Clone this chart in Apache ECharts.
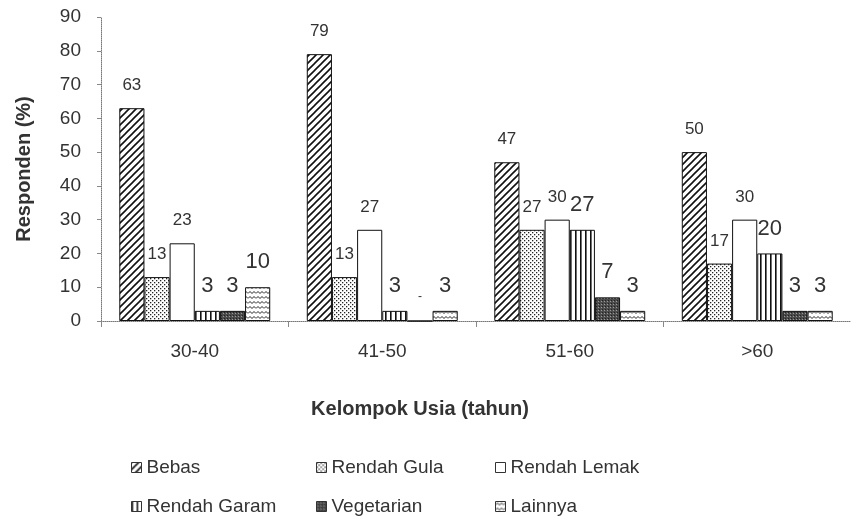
<!DOCTYPE html>
<html>
<head>
<meta charset="utf-8">
<script src="https://cdn.jsdelivr.net/npm/echarts@6/dist/echarts.min.js"></script>
<style>
  html, body { margin: 0; padding: 0; background: #fff; }
  #chart { width: 851px; height: 524px; }
</style>
</head>
<body>
<div id="chart"></div>
<script>
// Age groups and diet-type shares (% of respondents)
const categories = ['30-40', '41-50', '51-60', '>60'];
const seriesNames = ['Bebas', 'Rendah Gula', 'Rendah Lemak', 'Rendah Garam', 'Vegetarian', 'Lainnya'];
const bebas = [63, 79, 47, 50];
const rendahGula = [13, 13, 27, 17];
const rendahLemak = [23, 27, 30, 30];
const rendahGaram = [3, 3, 27, 20];
const vegetarian = [3, 0, 7, 3];
const lainnya = [10, 3, 3, 3];
const yTicks = [0, 10, 20, 30, 40, 50, 60, 70, 80, 90];

const FONT = '"Liberation Sans", Arial, sans-serif';

// Monochrome fill patterns drawn on small canvas tiles
function tile(w, h, draw) {
  const c = document.createElement('canvas');
  c.width = w; c.height = h;
  const g = c.getContext('2d');
  g.fillStyle = '#fff';
  g.fillRect(0, 0, w, h);
  draw(g, w, h);
  return { image: c, repeat: 'repeat' };
}
const patterns = [
  // diagonal hatching
  tile(7, 7, (g, w, h) => {
    g.strokeStyle = '#111'; g.lineWidth = 1.6;
    g.beginPath();
    g.moveTo(-1, h + 1); g.lineTo(w + 1, -1);
    g.moveTo(-1, 1); g.lineTo(1, -1);
    g.moveTo(w - 1, h + 1); g.lineTo(w + 1, h - 1);
    g.stroke();
  }),
  // light stipple
  tile(4, 4, (g) => {
    g.fillStyle = '#222';
    g.fillRect(0, 0, 1.3, 1.3);
    g.fillRect(2, 2, 1.3, 1.3);
  }),
  // plain white
  tile(2, 2, () => {}),
  // vertical lines
  tile(5, 5, (g, w, h) => {
    g.fillStyle = '#111';
    g.fillRect(0, 0, 1.6, h);
  }),
  // dark stipple
  tile(3, 3, (g) => {
    g.fillStyle = '#4c4c4c';
    g.fillRect(0, 0, 3, 3);
    g.fillStyle = '#9a9a9a';
    g.fillRect(1, 1, 1, 1);
    g.fillStyle = '#222';
    g.fillRect(2, 0, 1, 1);
  }),
  // wavy lines
  tile(8, 5, (g) => {
    g.strokeStyle = '#222'; g.lineWidth = 1;
    g.beginPath();
    g.moveTo(0, 3.5); g.lineTo(2, 1.5); g.lineTo(4, 3.5); g.lineTo(6, 1.5); g.lineTo(8, 3.5);
    g.stroke();
  })
];

const values = [bebas, rendahGula, rendahLemak, rendahGaram, vegetarian, lainnya];
const labelSizes = [17, 17, 17, 22, 22, 22];

const series = seriesNames.map((name, i) => ({
  name,
  type: 'bar',
  barGap: 0,
  barCategoryGap: '19.5%',
  itemStyle: { color: patterns[i], borderColor: '#111', borderWidth: 1 },
  label: {
    show: true,
    position: 'top',
    distance: 14,
    color: '#333',
    fontFamily: FONT,
    fontSize: labelSizes[i]
  },
  data: values[i].map(v => (v === 0
    ? { value: v, label: { formatter: '-', fontSize: 12, distance: 18 } }
    : v))
}));

// One legend block per item so the entries line up in columns
const legendPos = [
  [126, 453], [311, 453], [490, 453],
  [126, 492], [311, 492], [490, 492]
];
const legends = seriesNames.map((name, i) => ({
  data: [name],
  left: legendPos[i][0],
  top: legendPos[i][1],
  itemWidth: 10,
  itemHeight: 10,
  icon: 'rect',
  itemStyle: { borderColor: '#333', borderWidth: 1 },
  textStyle: { fontFamily: FONT, fontSize: 19, color: '#333' },
  selectedMode: false
}));

const chart = echarts.init(document.getElementById('chart'), null, { renderer: 'canvas' });
chart.setOption({
  animation: false,
  backgroundColor: '#fff',
  grid: { left: 101, width: 756, top: 17, bottom: 203, containLabel: false },
  legend: legends,
  xAxis: {
    type: 'category',
    data: categories,
    name: 'Kelompok Usia (tahun)',
    nameLocation: 'middle',
    nameGap: 78,
    nameTextStyle: { fontFamily: FONT, fontSize: 20, fontWeight: 'bold', color: '#333', padding: [0, 112, 0, 0] },
    axisLine: { show: true, lineStyle: { color: '#777', type: 'dotted', width: 1 } },
    axisTick: { show: true, length: 6, lineStyle: { color: '#888' } },
    axisLabel: { fontFamily: FONT, fontSize: 19, color: '#333', margin: 21 }
  },
  yAxis: {
    type: 'value',
    min: yTicks[0],
    max: yTicks[yTicks.length - 1],
    interval: 10,
    name: 'Responden (%)',
    nameLocation: 'middle',
    nameGap: 67,
    nameTextStyle: { fontFamily: FONT, fontSize: 20, fontWeight: 'bold', color: '#333' },
    axisLine: { show: true, lineStyle: { color: '#777', type: 'dotted', width: 1 } },
    axisTick: { show: true, length: 4, lineStyle: { color: '#888' } },
    axisLabel: { fontFamily: FONT, fontSize: 19, color: '#333', margin: 20 },
    splitLine: { show: false }
  },
  series
});
</script>
</body>
</html>
